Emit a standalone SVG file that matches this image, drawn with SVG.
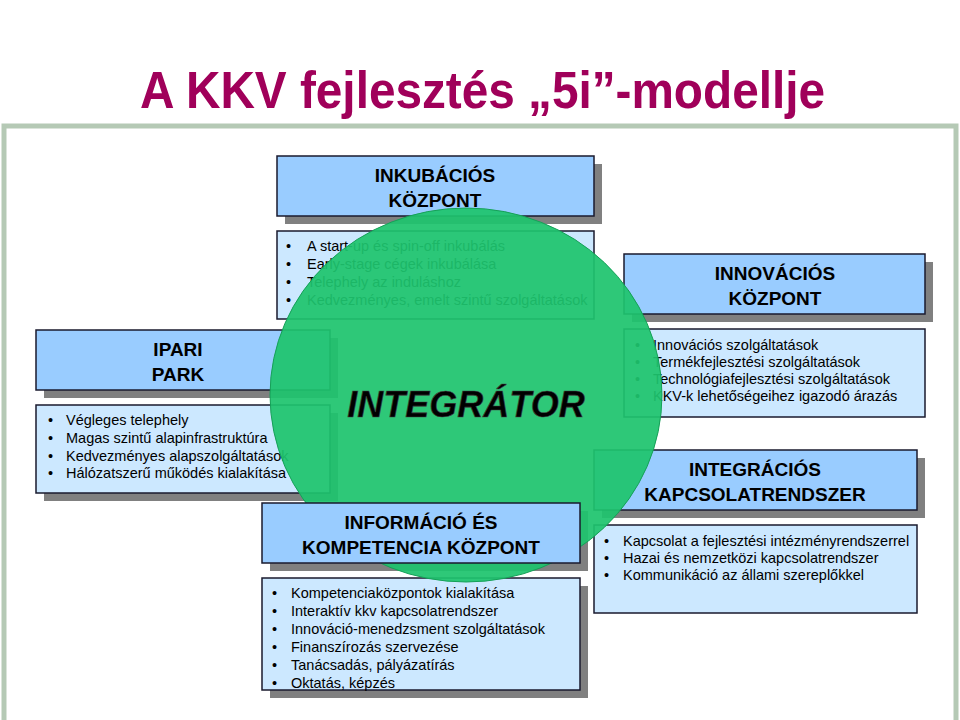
<svg xmlns="http://www.w3.org/2000/svg" width="960" height="720" viewBox="0 0 960 720">
<style>
.sh{fill:#808080}
.hd{fill:#99ccff;stroke:#1a1a2e;stroke-width:1.5}
.bd{fill:#cce8ff;stroke:#1a1a2e;stroke-width:1.5}
.ht{font-family:"Liberation Sans",Arial,sans-serif;font-weight:bold;font-size:19px;text-anchor:middle;fill:#000}
.bt{font-family:"Liberation Sans",Arial,sans-serif;font-size:14.5px;fill:#000}
</style>
<rect width="960" height="720" fill="#fff"/>
<text x="140" y="108" textLength="685" lengthAdjust="spacingAndGlyphs" font-family="Liberation Sans,Arial,sans-serif" font-weight="bold" font-size="52" fill="#a0005a">A KKV fejlesztés „5i”-modellje</text>
<rect x="4" y="126" width="952" height="600" fill="#fff" stroke="#b5c9b5" stroke-width="5"/>

<g id="inkubacios">
<rect class="sh" x="285" y="164" width="317" height="60"/><rect class="hd" x="277" y="156" width="317" height="60"/>
<text class="ht" x="435" y="182">INKUBÁCIÓS</text><text class="ht" x="435" y="207">KÖZPONT</text>
<rect class="bd" x="277" y="231" width="317" height="88"/>
<text class="bt" y="251"><tspan x="286">•</tspan><tspan x="307">A start-up és spin-off inkubálás</tspan></text>
<text class="bt" y="269"><tspan x="286">•</tspan><tspan x="307">Early-stage cégek inkubálása</tspan></text>
<text class="bt" y="287"><tspan x="286">•</tspan><tspan x="307">Telephely az induláshoz</tspan></text>
<text class="bt" y="305"><tspan x="286">•</tspan><tspan x="307">Kedvezményes, emelt szintű szolgáltatások</tspan></text>
</g>

<g id="innovacios">
<rect class="sh" x="632" y="262" width="301" height="60"/><rect class="hd" x="624" y="254" width="301" height="60"/>
<text class="ht" x="775" y="280">INNOVÁCIÓS</text><text class="ht" x="775" y="305">KÖZPONT</text>
<rect class="bd" x="624" y="329" width="301" height="88"/>
<text class="bt" y="350"><tspan x="635">•</tspan><tspan x="653">Innovációs szolgáltatások</tspan></text>
<text class="bt" y="367"><tspan x="635">•</tspan><tspan x="653">Termékfejlesztési szolgáltatások</tspan></text>
<text class="bt" y="384"><tspan x="635">•</tspan><tspan x="653">Technológiafejlesztési szolgáltatások</tspan></text>
<text class="bt" y="401"><tspan x="635">•</tspan><tspan x="653">KKV-k lehetőségeihez igazodó árazás</tspan></text>
</g>

<g id="ipari">
<rect class="sh" x="44" y="338" width="294" height="60"/><rect class="hd" x="36" y="330" width="294" height="60"/>
<text class="ht" x="178" y="356">IPARI</text><text class="ht" x="178" y="381">PARK</text>
<rect class="sh" x="44" y="413" width="294" height="88"/><rect class="bd" x="36" y="405" width="294" height="88"/>
<text class="bt" y="425"><tspan x="48">•</tspan><tspan x="66">Végleges telephely</tspan></text>
<text class="bt" y="443"><tspan x="48">•</tspan><tspan x="66">Magas szintű alapinfrastruktúra</tspan></text>
<text class="bt" y="461"><tspan x="48">•</tspan><tspan x="66">Kedvezményes alapszolgáltatások</tspan></text>
<text class="bt" y="478"><tspan x="48">•</tspan><tspan x="66">Hálózatszerű működés kialakítása</tspan></text>
</g>

<g id="integracios">
<rect class="sh" x="602" y="458" width="323" height="60"/><rect class="hd" x="594" y="450" width="323" height="60"/>
<text class="ht" x="755" y="476">INTEGRÁCIÓS</text><text class="ht" x="755" y="501">KAPCSOLATRENDSZER</text>
<rect class="bd" x="594" y="525" width="323" height="88"/>
<text class="bt" y="546"><tspan x="604">•</tspan><tspan x="623">Kapcsolat a fejlesztési intézményrendszerrel</tspan></text>
<text class="bt" y="563"><tspan x="604">•</tspan><tspan x="623">Hazai és nemzetközi kapcsolatrendszer</tspan></text>
<text class="bt" y="580"><tspan x="604">•</tspan><tspan x="623">Kommunikáció az állami szereplőkkel</tspan></text>
</g>

<g id="informacio">
<rect class="sh" x="270" y="511" width="318" height="60"/>
<rect class="sh" x="270" y="586" width="318" height="112"/><rect class="bd" x="262" y="578" width="318" height="112"/>
<text class="bt" y="598"><tspan x="272">•</tspan><tspan x="291">Kompetenciaközpontok kialakítása</tspan></text>
<text class="bt" y="616"><tspan x="272">•</tspan><tspan x="291">Interaktív kkv kapcsolatrendszer</tspan></text>
<text class="bt" y="634"><tspan x="272">•</tspan><tspan x="291">Innováció-menedzsment szolgáltatások</tspan></text>
<text class="bt" y="652"><tspan x="272">•</tspan><tspan x="291">Finanszírozás szervezése</tspan></text>
<text class="bt" y="670"><tspan x="272">•</tspan><tspan x="291">Tanácsadás, pályázatírás</tspan></text>
<text class="bt" y="688"><tspan x="272">•</tspan><tspan x="291">Oktatás, képzés</tspan></text>
</g>

<g id="integrator">
<ellipse cx="466" cy="395" rx="196" ry="187" fill="#1ec46e" fill-opacity="0.93" stroke="#16a058" stroke-width="1"/>
<text x="466" y="417" font-family="Liberation Sans,Arial,sans-serif" font-weight="bold" font-style="italic" font-size="36" text-anchor="middle" fill="#000" stroke="#444" stroke-width="0.6">INTEGRÁTOR</text>
</g>

<g id="informacio-header">
<rect class="hd" x="262" y="503" width="318" height="60"/>
<text class="ht" x="421" y="529">INFORMÁCIÓ ÉS</text><text class="ht" x="421" y="554">KOMPETENCIA KÖZPONT</text>
</g>
<g id="connectors"/>
</svg>
